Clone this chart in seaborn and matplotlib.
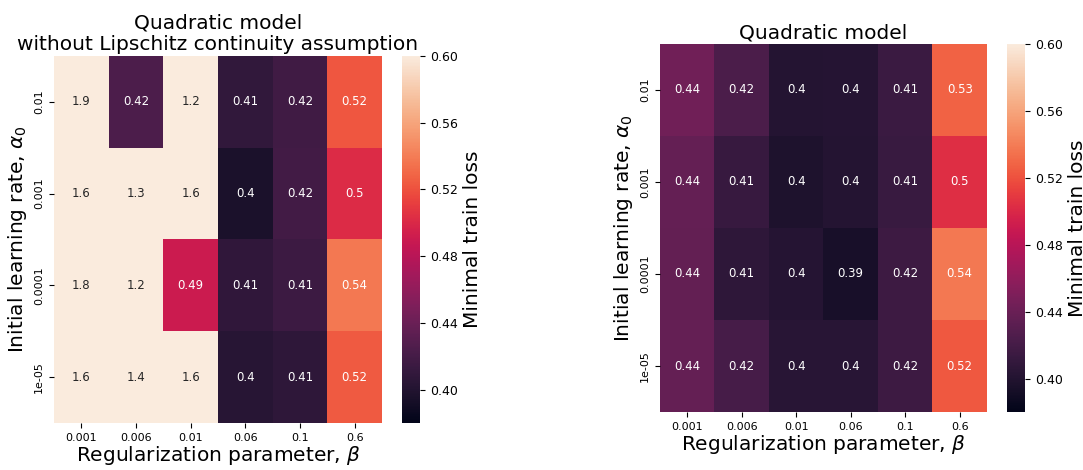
"""
Minimal train loss over (alpha_0, beta) grid, two quadratic-model heatmaps.
"""
import matplotlib
matplotlib.use("Agg")
import matplotlib.pyplot as plt
import numpy as np
import seaborn as sns

betas = ["0.001", "0.006", "0.01", "0.06", "0.1", "0.6"]
alphas = ["0.01", "0.001", "0.0001", "1e-05"]

# без предположения о липшицевости
loss_no_lip = np.array([
    [1.9, 0.424, 1.2, 0.409, 0.417, 0.522],
    [1.6, 1.3, 1.6, 0.396, 0.418, 0.502],
    [1.8, 1.2, 0.49, 0.408, 0.415, 0.538],
    [1.6, 1.4, 1.6, 0.403, 0.407, 0.524],
])

loss_quad = np.array([
    [0.443, 0.423, 0.401, 0.402, 0.414, 0.527],
    [0.437, 0.412, 0.398, 0.401, 0.413, 0.503],
    [0.436, 0.407, 0.402, 0.394, 0.416, 0.538],
    [0.437, 0.421, 0.404, 0.404, 0.416, 0.523],
])

titles = ["Quadratic model\nwithout Lipschitz continuity assumption", "Quadratic model"]
vmin, vmax = 0.38, 0.60

fig = plt.figure(figsize=(10.83, 4.7), dpi=100)
ax_pos = [[0.0499, 0.100, 0.3029, 0.781], [0.6094, 0.1234, 0.3019, 0.783]]
cb_pos = [[0.3712, 0.100, 0.0166, 0.781], [0.9298, 0.1234, 0.0166, 0.783]]

for data, title, apos, cpos in zip([loss_no_lip, loss_quad], titles, ax_pos, cb_pos):
    ax = fig.add_axes(apos)
    cax = fig.add_axes(cpos)
    sns.heatmap(data, ax=ax, cbar_ax=cax, cmap="rocket", vmin=vmin, vmax=vmax,
                annot=True, fmt=".2g", annot_kws={"size": 8.5},
                xticklabels=betas, yticklabels=alphas)
    ax.set_title(title, fontsize=14.5, pad=4)
    ax.set_xlabel(r"Regularization parameter, $\beta$", fontsize=14.5, labelpad=1)
    ax.set_ylabel(r"Initial learning rate, $\alpha_0$", fontsize=14.5)
    ax.tick_params(axis="both", labelsize=8)
    plt.setp(ax.get_yticklabels(), rotation=90, va="center")
    plt.setp(ax.get_xticklabels(), rotation=0)
    cax.set_yticks([0.40, 0.44, 0.48, 0.52, 0.56, 0.60])
    cax.set_yticklabels(["0.40", "0.44", "0.48", "0.52", "0.56", "0.60"])
    cax.tick_params(labelsize=9)
    cax.set_ylabel("Minimal train loss", fontsize=14.5)

fig.savefig("out.png", dpi=100)
